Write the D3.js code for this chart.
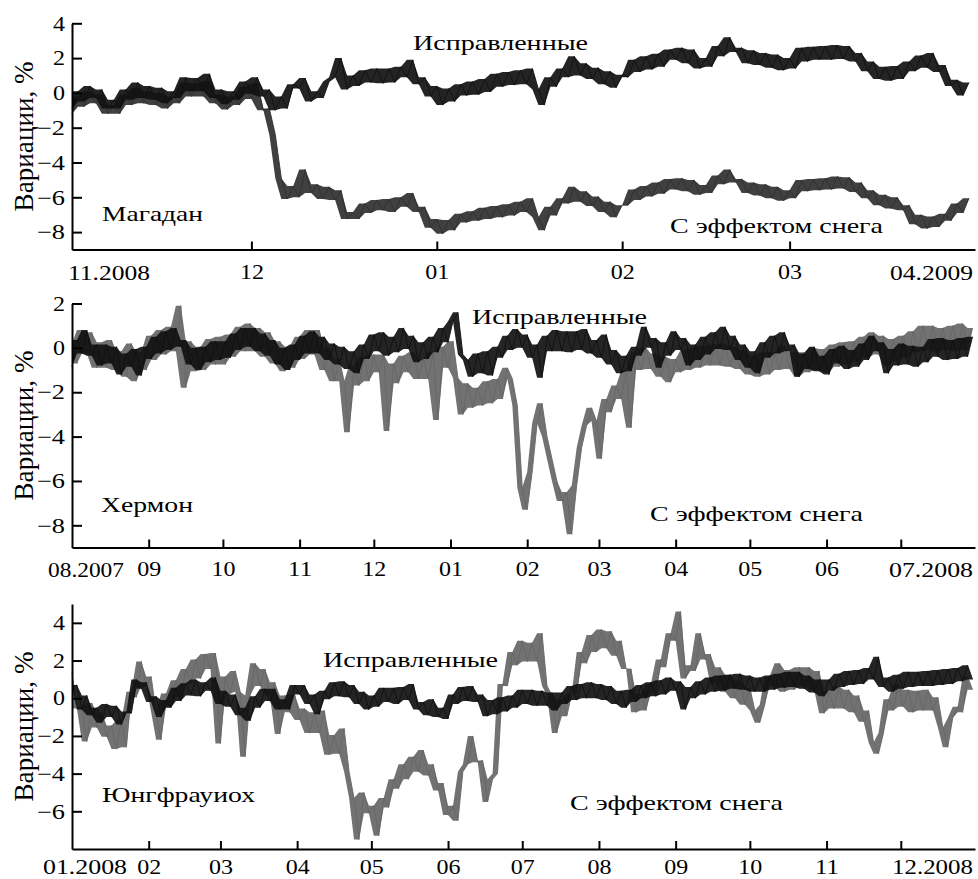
<!DOCTYPE html>
<html>
<head>
<meta charset="utf-8">
<script src="https://cdn.jsdelivr.net/npm/d3@7"></script>
<style>
body { margin: 0; background: #fff; }
svg text { font-family: "Liberation Serif", "Times New Roman", Times, "Nimbus Roman", FreeSerif, serif; }
</style>
</head>
<body>
<svg id="chart" width="978" height="879"></svg>
<script>
// Magadan, one reading per day from 01.11.2008 (alternating low / high edge of the noise band)
var magCorr = [-0.9, 0.1, -0.5, 0.4, -0.3, 0.2, -0.9, -0.4, -0.9, 0.2,
  -0.4, 0.6, -0.3, 0.4, -0.4, 0.3, -0.6, 0.1, -0.3, 0.9,
  0.1, 0.85, 0.1, 1.1, -0.3, 0.2, -0.65, 0.1, -0.4, 0.65,
  -0.05, 0.9, -0.2, 0.2, -1.0, -0.2, -0.9, 0.5, 0.25, 0.85,
  -0.5, 0.1, -0.3, 0.65, 0.9, 2.0, 0.2, 1.0, 0.4, 1.3,
  0.6, 1.4, 0.55, 1.4, 0.6, 1.5, 0.9, 1.9, 0.5, 0.9,
  -0.2, 0.4, -0.7, 0.25, -0.5, 0.5, -0.15, 0.65, -0.1, 0.8,
  0.05, 1.1, 0.35, 1.2, 0.45, 1.3, 0.5, 1.4, 0.2, -0.7,
  0.9, 0.35, 1.4, 0.9, 2.1, 1.0, 1.7, 0.8, 1.45, 0.5,
  1.25, 0.3, 1.05, 0.9, 1.9, 1.2, 2.1, 1.35, 2.25, 1.5,
  2.5, 1.9, 2.6, 1.7, 2.5, 1.4, 2.0, 1.5, 2.7, 2.1,
  3.2, 2.35, 2.6, 1.7, 2.45, 1.6, 2.3, 1.45, 2.2, 1.3,
  2.0, 1.4, 2.6, 1.8, 2.65, 1.9, 2.7, 1.9, 2.75, 1.95,
  2.7, 1.8, 2.3, 1.25, 1.8, 0.8, 1.5, 0.7, 1.55, 0.8,
  1.8, 1.25, 2.15, 1.45, 2.3, 1.2, 1.6, 0.4, 0.75, -0.15,
  0.6];
var magSnow = [-1.2, -0.2, -0.8, 0.1, -0.6, -0.1, -1.2, -0.7, -1.2, -0.1,
  -0.7, 0.3, -0.6, 0.1, -0.7, 0.0, -0.9, -0.2, -0.6, 0.6,
  -0.2, 0.55, -0.2, 0.7, -0.6, -0.1, -0.95, -0.2, -0.7, 0.35,
  -0.35, 0.55, -1.0, -0.9, -2.4, -4.9, -6.1, -5.35, -6.0, -4.4,
  -5.75, -5.25, -6.1, -5.4, -6.15, -5.6, -7.25, -6.85, -7.25, -6.35,
  -6.9, -6.15, -6.75, -6.1, -6.85, -6.0, -6.55, -5.75, -6.85, -6.55,
  -7.75, -7.25, -8.1, -7.3, -7.9, -6.95, -7.45, -6.8, -7.35, -6.6,
  -7.25, -6.5, -7.15, -6.4, -7.05, -6.25, -6.85, -6.05, -7.15, -7.9,
  -6.55, -7.05, -6.05, -6.35, -5.4, -6.25, -5.65, -6.5, -5.95, -6.85,
  -6.25, -7.15, -6.45, -6.45, -5.55, -6.15, -5.35, -5.95, -5.15, -5.8,
  -4.95, -5.55, -4.9, -5.65, -5.0, -5.85, -5.3, -5.75, -4.75, -5.25,
  -4.4, -5.15, -4.95, -5.75, -5.15, -5.9, -5.25, -6.05, -5.4, -6.2,
  -5.6, -6.05, -5.0, -5.65, -4.95, -5.6, -4.9, -5.55, -4.8, -5.5,
  -4.85, -5.7, -5.15, -6.05, -5.6, -6.45, -5.85, -6.65, -6.0, -6.75,
  -6.45, -7.55, -7.0, -7.8, -7.1, -7.7, -6.95, -7.35, -6.35, -6.9,
  -6.05];

// Hermon, one reading every 2 days from 01.08.2007
var hermCorr = [-0.85, 0.35, -0.25, 0.8, -0.35, 0.15, -0.8, 0.15, -0.7, 0.05,
  -1.2, -0.25, -0.85, -0.05, -1.25, 0.05, -0.5, 0.5, -0.25, 0.75,
  -0.1, 0.9, 0.05, 0.35, -0.75, 0, -1.0, 0.05, -0.65, 0.3,
  -0.55, 0.3, -0.45, 0.65, -0.1, 0.9, 0.05, 0.9, -0.15, 0.65,
  -0.35, 0.35, -0.75, 0, -1.0, 0.15, -0.55, 0.55, -0.25, 0.75,
  -0.25, 0.5, -0.55, 0.2, -0.75, 0.05, -0.95, -0.15, -1.15, 0.15,
  -0.5, 0.6, -0.15, 0.7, -0.35, 0.5, -0.2, 0.9, -0.05, 0.55,
  -0.65, 0.25, -0.5, 0.5, -0.2, 0.9, 0.25, 1.2, 1.6, -0.3,
  -0.55, -1.3, -0.25, -1.15, -0.15, -1.25, 0.05, -0.45, 0.55, -0.1,
  0.85, 0, 0.6, -0.45, 0.15, -1.35, 0.55, -0.15, 0.8, -0.15,
  0.75, -0.2, 0.75, -0.1, 0.85, -0.25, 0.35, -0.45, 0.6, -0.75,
  -0.1, -1.15, -0.35, -1.05, 0.05, -0.35, 0.95, 0, 0.45, -0.9,
  0.25, -0.35, 0.75, -0.1, 0.45, -0.8, 0.15, -0.55, 0.5, -0.3,
  0.7, -0.05, 0.95, -0.1, 0.55, -0.55, 0.15, -0.9, -0.15, -1.15,
  0.25, -0.45, 0.55, -0.25, 0.7, -0.15, 0.15, -1.3, -0.25, -0.95,
  0.05, -1.05, -0.35, -1.2, -0.05, -0.7, 0.1, -0.95, -0.1, -0.85,
  0.2, -0.55, 0.55, -0.15, 0.25, -1.15, -0.05, -0.8, 0.2, -0.75,
  0.1, -0.85, 0.05, -0.65, 0.4, -0.4, 0.45, -0.55, 0.35, -0.5,
  0.45, -0.4, 0.5];
var hermSnow = [0.2, -0.7, 0.8, -0.25, 0.7, -0.9, 0.25, -0.9, 0.35, -1.0,
  -0.15, -1.3, 0.2, -1.5, -0.2, -1.0, 0.55, -0.55, 0.8, -0.3,
  0.95, -0.15, 1.9, -1.8, 0.3, -1.05, 0.05, -1.0, 0.4, -0.75,
  0.5, -0.75, 0.6, -0.4, 0.95, -0.15, 1.1, -0.15, 0.9, -0.4,
  0.7, -0.7, 0.3, -1.05, 0.05, -0.9, 0.5, -0.5, 0.8, -0.3,
  0.8, -1.0, 0.0, -1.5, -0.5, -1.5, -3.8, -0.8, -1.7, -0.4,
  -1.5, -0.3, -1.1, -0.3, -3.75, -0.7, -1.6, -0.35, -1.1, -0.2,
  -1.4, -0.5, -1.4, -0.2, -3.25, 0.05, -0.9, 0.3, -1.35, -3.0,
  -1.6, -2.7, -1.8, -2.6, -1.5, -2.5, -1.4, -2.3, -0.9, -1.4,
  -2.6, -6.3, -7.3, -5.6, -3.4, -2.5, -4.0, -5.0, -6.0, -6.9,
  -6.5, -8.4, -6.2, -4.5, -3.5, -2.7, -3.3, -5.0, -2.3, -2.9,
  -1.7, -2.3, -1.0, -3.6, -0.2, -1.0, 0.0, -0.95, -0.25, -1.3,
  -0.4, -1.55, -0.5, -1.1, -0.1, -1.0, 0.0, -0.9, 0.1, -0.8,
  0.15, -0.8, 0.2, -0.85, 0.05, -0.95, -0.1, -1.2, -0.35, -1.3,
  -0.2, -1.2, -0.2, -1.0, 0.1, -0.95, -0.2, -1.3, -0.2, -1.1,
  0.0, -1.0, -0.05, -1.1, 0.15, -0.85, 0.25, -0.75, 0.3, -0.6,
  0.5, -0.45, 0.7, -0.3, 0.55, -0.8, 0.4, -0.6, 0.55, -0.45,
  0.75, -0.2, 1.0, -0.1, 1.0, -0.2, 0.9, -0.1, 1.0, -0.15,
  1.1, -0.1, 0.9];

// Jungfraujoch, one reading every 2 days from 01.01.2008
var jungCorr = [0.6, 0.7, -0.6, 0.15, -0.9, -0.5, -1.3, -0.3, -1.0, -0.4,
  -1.4, -0.7, -0.8, 1.0, 0.5, 0.85, -0.2, 0.1, -1.0, -0.1,
  -0.5, 0.55, -0.15, 0.8, 0.15, 1.0, 0.1, 0.85, 0.4, 1.1,
  -0.3, 0.4, -0.45, 0.2, -0.9, -0.5, -1.2, 0.1, -0.5, 0.5,
  -0.15, 0.5, -0.6, -0.05, -0.6, 0.7, 0.2, 0.7, -0.3, 0.2,
  -0.85, 0.4, -0.05, 0.85, 0.1, 0.9, 0.05, 0.7, -0.3, 0.35,
  -0.6, 0.15, -0.45, 0.55, -0.2, 0.55, -0.3, 0.6, -0.1, 0.75,
  -0.6, -0.2, -0.9, -0.05, -1.0, -0.5, -1.1, 0.2, -0.3, 0.6,
  -0.15, 0.65, -0.2, 0.2, -0.95, -0.1, -0.85, 0.05, -0.7, 0.15,
  -0.5, 0.45, -0.3, 0.45, -0.4, 0.4, -0.4, 0.3, -0.65, 0.3,
  -0.3, 0.65, -0.1, 0.75, 0.0, 0.85, 0.0, 0.75, -0.1, 0.65,
  -0.3, 0.4, -0.5, 0.45, -0.2, 0.7, 0.0, 0.85, 0.1, 0.95,
  0.2, 1.1, 0.4, 0.9, -0.6, 0.6, 0.0, 0.9, 0.2, 1.1,
  0.35, 1.2, 0.4, 1.25, 0.5, 1.3, 0.45, 1.2, 0.35, 1.1,
  0.35, 1.2, 0.45, 1.3, 0.55, 1.4, 0.6, 1.4, 0.5, 1.2,
  0.3, 1.0, 0.1, 1.0, 0.4, 1.3, 0.6, 1.45, 0.7, 1.5,
  0.75, 1.6, 1.0, 2.2, 0.6, 1.1, 0.35, 1.25, 0.5, 1.4,
  0.6, 1.4, 0.65, 1.45, 0.65, 1.5, 0.7, 1.55, 0.75, 1.6,
  0.9, 1.75, 1.0];
var jungSnow = [1.35, -0.55, -0.45, -2.3, -0.25, -1.55, -0.75, -2.05, -1.45, -2.7,
  -1.15, -2.6, 0.35, 0.05, 1.95, 0.65, 1.15, -0.75, -2.2, 0.25,
  -0.45, 0.95, 0.05, 1.55, 0.75, 2.05, 1.05, 2.35, 1.55, 2.4,
  -2.4, 1.15, 0.25, 1.45, 0.35, -3.1, 0.15, 1.85, 0.65, 1.55,
  0.15, 0.85, -1.9, 0.15, -0.75, 0.2, -1.15, -0.55, -1.85, -0.75,
  -1.85, -0.65, -3.0, -1.95, -2.95, -1.6, -3.9, -5.3, -7.5, -5.0,
  -6.1, -5.7, -7.3, -5.3, -5.8, -4.3, -4.8, -3.5, -4.3, -3.1,
  -3.9, -2.75, -4.1, -3.5, -4.9, -4.5, -6.2, -5.7, -6.5, -3.9,
  -3.5, -2.0, -3.4, -3.3, -5.5, -4.3, -4.0, 0.75, 0.65, 2.45,
  1.75, 3.05, 1.95, 2.95, 1.95, 3.45, 0.65, 0.15, -1.85, -0.05,
  -0.95, 0.25, 0.25, 2.45, 1.85, 3.35, 2.45, 3.65, 2.65, 3.55,
  2.25, 3.05, 1.55, 1.55, -0.75, 0.25, -0.65, 0.75, 0.25, 2.05,
  1.65, 3.45, 3.05, 4.6, 1.05, 1.75, 1.45, 3.45, 2.05, 2.35,
  0.75, 1.65, 0.35, 1.25, 0.0, 0.95, -0.35, 0.55, -0.65, -1.3,
  -0.35, 1.15, 0.65, 1.85, 0.35, 1.5, 0.45, 1.65, 0.65, 1.65,
  0.45, 1.45, -0.8, 0.35, -0.55, 0.65, -0.55, 0.45, -0.75, 0.15,
  -1.25, -0.65, -2.35, -2.95, -1.85, -0.05, -0.65, 0.75, -0.45, 0.45,
  -0.75, 0.4, -0.65, 0.45, -0.65, 0.05, -1.55, -2.6, -1.05, -0.45,
  -0.75, 1.15, 0.45];

// axis ticks and labels
var magTicks = ["2008-12-01", "2009-01-01", "2009-02-01", "2009-03-01"];
var magTickLabels = ["12", "01", "02", "03"];
var hermTicks = ["2007-09-01", "2007-10-01", "2007-11-01", "2007-12-01", "2008-01-01", "2008-02-01",
  "2008-03-01", "2008-04-01", "2008-05-01", "2008-06-01", "2008-07-01"];
var hermTickLabels = ["09", "10", "11", "12", "01", "02", "03", "04", "05", "06", ""];
var jungTicks = ["2008-02-01", "2008-03-01", "2008-04-01", "2008-05-01", "2008-06-01", "2008-07-01",
  "2008-08-01", "2008-09-01", "2008-10-01", "2008-11-01", "2008-12-01"];
var jungTickLabels = ["02", "03", "04", "05", "06", "07", "08", "09", "10", "11", ""];

var magYTicks = [4, 2, 0, -2, -4, -6, -8];
var hermYTicks = [2, 0, -2, -4, -6, -8];
var jungYTicks = [4, 2, 0, -2, -4, -6];

var parseDay = d3.timeParse("%Y-%m-%d");

var svg = d3.select("#chart");

var panels = [
  {
    start: "2008-11-01", end: "2009-04-01", step: 1,
    corr: magCorr, snow: magSnow, snowColor: "#303030",
    yDomain: [-9, 4], yRange: [249.5, 23.3], yTicks: magYTicks,
    ticks: magTicks, tickLabels: magTickLabels, labelDy: 30,
    first: {text: "11.2008", x: 68, len: 82}, last: {text: "04.2009", x: 973, len: 83},
    station: {text: "Магадан", x: 102, y: 221, len: 101},
    corrLabel: {x: 413, y: 50}, snowLabel: {x: 670, y: 233}
  },
  {
    start: "2007-08-01", end: "2008-07-31", step: 2,
    corr: hermCorr, snow: hermSnow, snowColor: "#666",
    yDomain: [-9, 2], yRange: [547.5, 303.5], yTicks: hermYTicks,
    ticks: hermTicks, tickLabels: hermTickLabels, labelDy: 29,
    first: {text: "08.2007", x: 48, len: 76}, last: {text: "07.2008", x: 973, len: 84},
    station: {text: "Хермон", x: 101, y: 512, len: 92},
    corrLabel: {x: 472, y: 324}, snowLabel: {x: 650, y: 521}
  },
  {
    start: "2008-01-01", end: "2008-12-31", step: 2,
    corr: jungCorr, snow: jungSnow, snowColor: "#666",
    yDomain: [-8, 5], yRange: [849, 604], yTicks: jungYTicks,
    ticks: jungTicks, tickLabels: jungTickLabels, labelDy: 25,
    first: {text: "01.2008", x: 43, len: 84}, last: {text: "12.2008", x: 973, len: 81},
    station: {text: "Юнгфрауиох", x: 102, y: 802, len: 153},
    corrLabel: {x: 323, y: 667}, snowLabel: {x: 570, y: 810}
  }
];

panels.forEach(drawPanel);

function drawPanel(p) {
  var start = parseDay(p.start);
  var x = d3.scaleTime()
      .domain([start, parseDay(p.end)])
      .range([72, 975]);
  var y = d3.scaleLinear()
      .domain(p.yDomain)
      .range(p.yRange);

  function xAt(d, i) { return x(d3.timeDay.offset(start, i * p.step)); }

  var line = d3.line()
      .x(xAt)
      .y(function (d) { return y(d); });

  // filled envelope between neighbouring readings, so the noisy trace reads as a band
  var band = d3.area()
      .x(xAt)
      .y0(function (d, i, a) { return y(Math.min(d, i + 1 < a.length ? a[i + 1] : d)); })
      .y1(function (d, i, a) { return y(Math.max(d, i + 1 < a.length ? a[i + 1] : d)); });

  var g = svg.append("g");

  [[p.snow, p.snowColor], [p.corr, "#111"]].forEach(function (s) {
    g.append("path")
        .datum(s[0])
        .attr("fill", s[1])
        .attr("fill-opacity", 0.92)
        .attr("d", band);
    g.append("path")
        .datum(s[0])
        .attr("fill", "none")
        .attr("stroke", s[1])
        .attr("stroke-width", 0.9)
        .attr("stroke-linejoin", "round")
        .attr("d", line);
  });

  // axes
  var yAxis = g.append("g")
      .attr("transform", "translate(72,0)")
      .call(d3.axisLeft(y)
          .tickValues(p.yTicks)
          .tickSizeInner(-10)
          .tickSizeOuter(0)
          .tickPadding(7)
          .tickFormat(d3.format("d")));

  var xAxis = g.append("g")
      .attr("transform", "translate(0," + p.yRange[0] + ")")
      .call(d3.axisBottom(x)
          .tickValues(p.ticks.map(parseDay))
          .tickSizeInner(-8)
          .tickSizeOuter(0)
          .tickPadding(p.labelDy - 15)
          .tickFormat(function (d, i) { return p.tickLabels[i]; }));

  [yAxis, xAxis].forEach(function (ax) {
    ax.attr("font-family", null).attr("font-size", null);
    ax.select(".domain").attr("stroke", "#000").attr("stroke-width", 2);
    ax.selectAll(".tick line").attr("stroke", "#000").attr("stroke-width", 2);
    ax.selectAll(".tick text")
        .attr("fill", "#000")
        .style("font-size", "21px")
        .attr("textLength", function () {
          return this.textContent.length > 1 ? 24 : 12;
        })
        .attr("lengthAdjust", "spacingAndGlyphs");
  });
  yAxis.selectAll(".tick text").filter(function () { return this.textContent.length > 1; })
      .attr("textLength", 28);

  [[p.first, p.first.x], [p.last, p.last.x - p.last.len]].forEach(function (l) {
    g.append("text")
        .attr("x", l[1])
        .attr("y", p.yRange[0] + p.labelDy)
        .attr("textLength", l[0].len)
        .attr("lengthAdjust", "spacingAndGlyphs")
        .style("font-size", "21px")
        .text(l[0].text);
  });

  // y label
  var cy = (p.yRange[0] + p.yRange[1]) / 2;
  g.append("text")
      .attr("transform", "translate(33," + cy + ") scale(1.2,1) rotate(-90)")
      .attr("text-anchor", "middle")
      .attr("textLength", 150)
      .attr("lengthAdjust", "spacingAndGlyphs")
      .style("font-size", "22px")
      .text("Вариации, %");

  // annotations
  addLabel(g, p.station.text, p.station.x, p.station.y, p.station.len);
  addLabel(g, "Исправленные", p.corrLabel.x, p.corrLabel.y, 175);
  addLabel(g, "С эффектом снега", p.snowLabel.x, p.snowLabel.y, 213);
}

function addLabel(g, text, x, y, len) {
  g.append("text")
      .attr("x", x)
      .attr("y", y)
      .attr("textLength", len)
      .attr("lengthAdjust", "spacingAndGlyphs")
      .style("font-size", "21.5px")
      .text(text);
}
</script>
</body>
</html>
